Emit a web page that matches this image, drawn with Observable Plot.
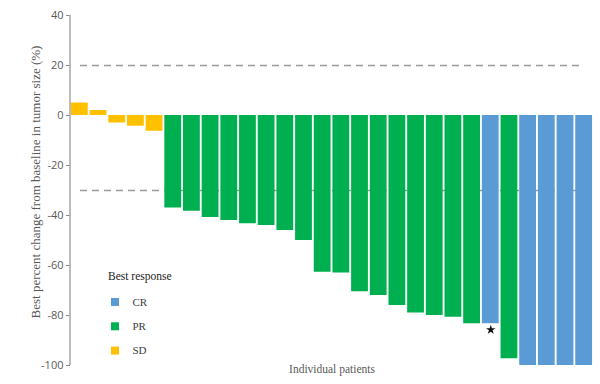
<!DOCTYPE html>
<html>
<head>
<meta charset="utf-8">
<script src="https://cdn.jsdelivr.net/npm/d3@7"></script>
<script src="https://cdn.jsdelivr.net/npm/@observablehq/plot@0.6"></script>
<style>
  html, body { margin: 0; padding: 0; background: #fff; }
  #chart { width: 600px; height: 384px; }
</style>
</head>
<body>
<div id="chart"></div>
<script>
// ---- data ----
const patients = d3.range(1, 29);
const changes = [5, 2, -3, -4.3, -6.3,
  -37, -38.3, -40.8, -42, -43.3, -44, -46, -50, -62.7, -63, -70.5, -72, -76, -79, -80, -80.7, -83.3,
  -83.3, -97.3, -100, -100, -100, -100];
const responses = ["SD","SD","SD","SD","SD",
  "PR","PR","PR","PR","PR","PR","PR","PR","PR","PR","PR","PR","PR","PR","PR","PR","PR",
  "CR","PR","CR","CR","CR","CR"];
const starred = [23];            // patient marked with a star
const thresholds = [20, -30];   // reference lines
const yTicks = [40, 20, 0, -20, -40, -60, -80, -100];
const categories = ["CR", "PR", "SD"];
const colors = ["#5B9BD5", "#00B050", "#FFC000"];
const yTitle = "Best percent change from baseline in tumor size (%)";
const xTitle = "Individual patients";
const legendTitle = "Best response";

const rows = patients.map((p, i) => ({patient: p, change: changes[i], response: responses[i]}));
const starRows = rows.filter(d => starred.includes(d.patient));

const sans = "'Open Sans', 'Liberation Sans', sans-serif";
const serif = "'Liberation Serif', 'DejaVu Serif', serif";

const chart = Plot.plot({
  width: 600,
  height: 384,
  marginLeft: 70,
  marginRight: 7,
  marginTop: 15,
  marginBottom: 19,
  style: {fontFamily: sans, fontSize: "11px", background: "#fff"},
  x: {type: "band", domain: patients, paddingInner: 0.1, paddingOuter: 0.05, round: false, axis: null},
  y: {domain: [-100, 40]},
  color: {domain: categories, range: colors},
  marks: [
    Plot.ruleY(thresholds, {stroke: "#9a9a9a", strokeWidth: 1.3, strokeDasharray: "7,5", insetLeft: 10, insetRight: 10}),
    Plot.barY(rows, {x: "patient", y: "change", fill: "response"}),
    Plot.dot(starRows, {x: "patient", y: "change", symbol: "star", r: 3, fill: "#111", dy: 6}),
    Plot.axisY({ticks: yTicks, tickFormat: d => String(d), tickSize: 4, stroke: "#8c8c8c", color: "#595959", label: null, tickPadding: 3, fontSize: 11}),
    Plot.text([xTitle], {frameAnchor: "bottom", dy: 7, fontFamily: serif, fontSize: 11.5, fill: "#595959"})
  ]
});

const svg = d3.select(chart);
const yScale = chart.scale("y");
const [yBottom, yTop] = yScale.range;

// left axis line
svg.append("line")
  .attr("x1", 70).attr("x2", 70).attr("y1", yTop).attr("y2", yBottom)
  .attr("stroke", "#a6a6a6").attr("stroke-width", 1.5);

// rotated y title
svg.append("text").text(yTitle)
  .attr("transform", `translate(35,182) rotate(-90)`)
  .attr("text-anchor", "middle").attr("dy", "0.35em")
  .attr("font-family", serif).attr("font-size", 13).attr("fill", "#595959");

// legend drawn from the color scale
const scale = chart.scale("color");
const lg = svg.append("g").attr("transform", "translate(108,276)").attr("text-anchor", "start");
lg.append("text").text(legendTitle).attr("x", 0).attr("y", 0).attr("dy", "0.35em")
  .attr("font-family", serif).attr("font-size", 11.5).attr("fill", "#222");
scale.domain.forEach((c, i) => {
  const y = 26 + i * 24.3;
  lg.append("rect").attr("x", 3).attr("y", y - 4).attr("width", 8).attr("height", 8).attr("fill", scale.range[i]);
  lg.append("text").text(c).attr("x", 24.5).attr("y", y).attr("dy", "0.35em")
    .attr("font-family", serif).attr("font-size", 11).attr("fill", "#404040");
});

document.getElementById("chart").appendChild(chart);
</script>
</body>
</html>
